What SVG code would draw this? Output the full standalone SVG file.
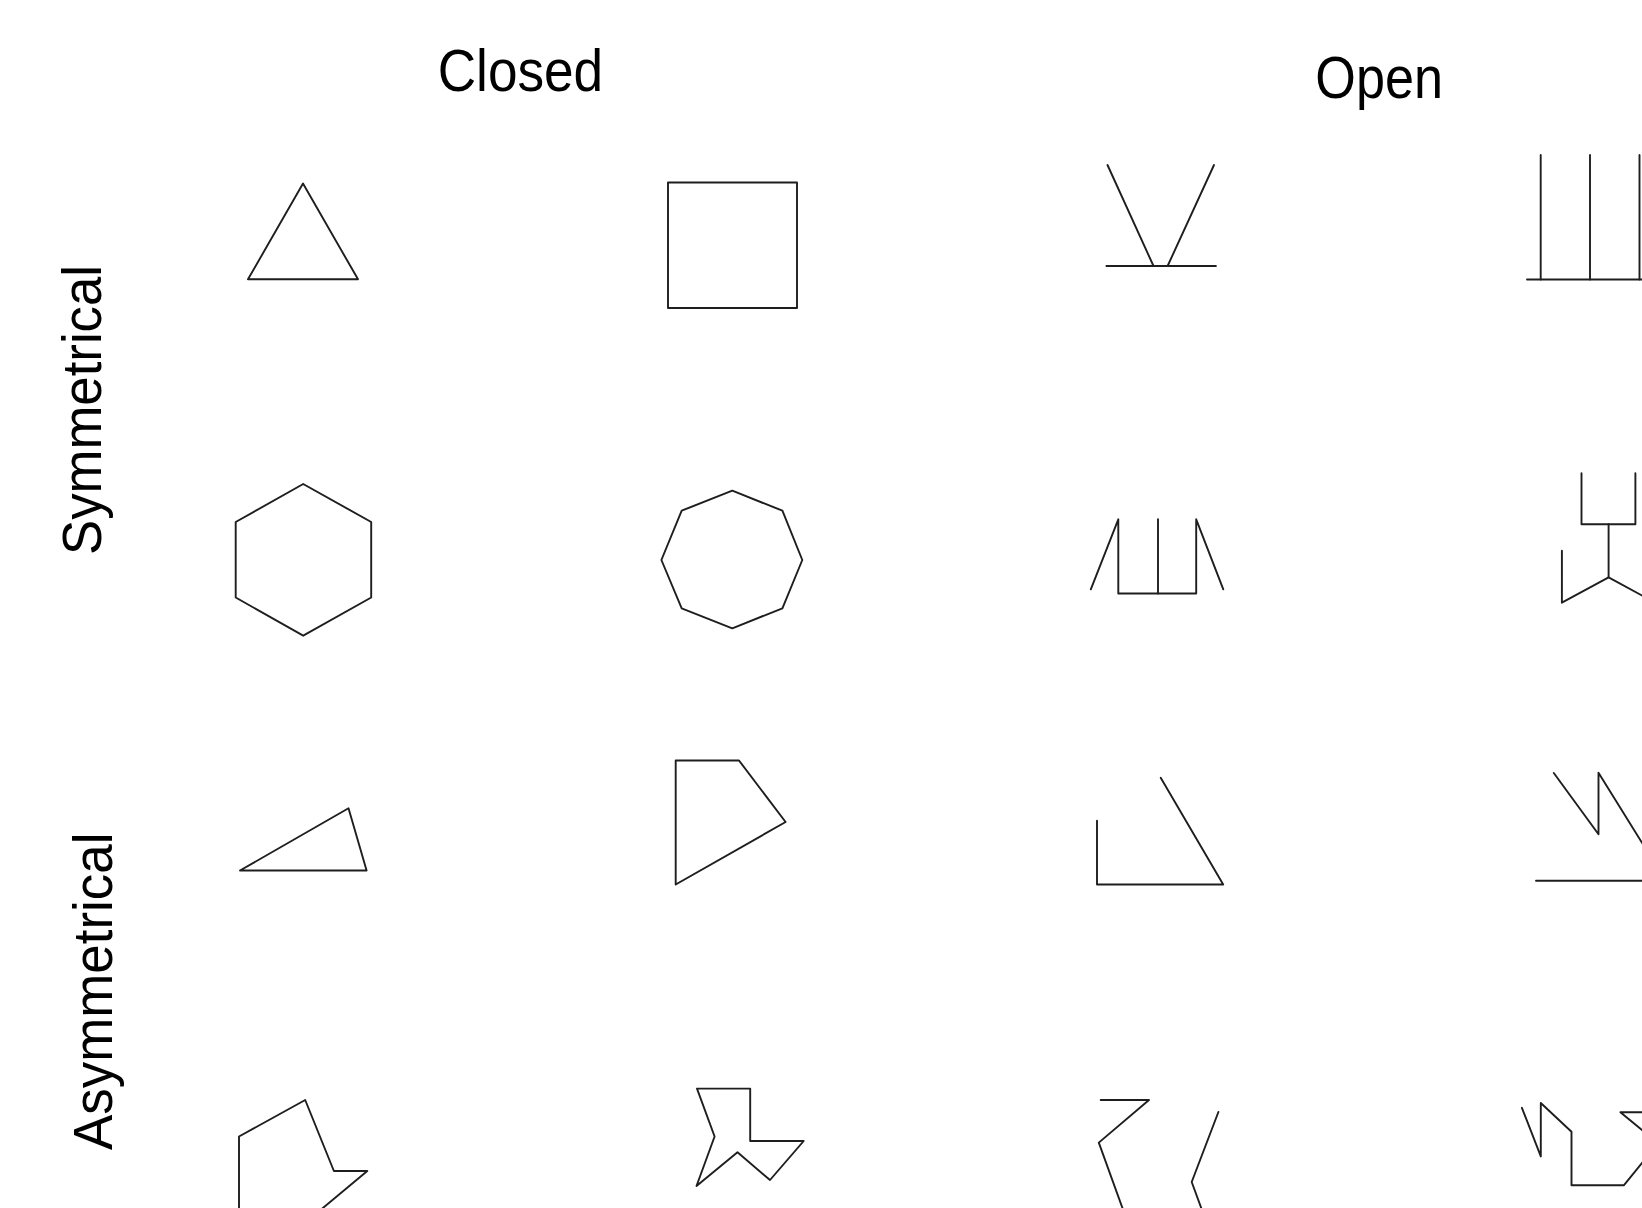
<svg xmlns="http://www.w3.org/2000/svg" width="1642" height="1208" viewBox="0 0 1642 1208">
<style>
.s{fill:none;stroke:#1e1e1e;stroke-width:1.9;stroke-linejoin:round;stroke-linecap:round}
.t{font-family:"Liberation Sans",Arial,sans-serif;fill:#000}
</style>
<rect width="1642" height="1208" fill="#fff"/>
<g id="labels">
<text class="t" x="437.7" y="91" font-size="59" textLength="165.5" lengthAdjust="spacingAndGlyphs">Closed</text>
<text class="t" x="1315.3" y="97.5" font-size="59" textLength="127.7" lengthAdjust="spacingAndGlyphs">Open</text>
<text class="t" transform="translate(101,555) rotate(-90)" font-size="55" textLength="290" lengthAdjust="spacingAndGlyphs">Symmetrical</text>
<text class="t" transform="translate(112,1150) rotate(-90)" font-size="55" textLength="317.5" lengthAdjust="spacingAndGlyphs">Asymmetrical</text>
</g>
<g id="closed-sym-1"><polygon class="s" points="303,183.5 248,279.3 358,279.3"/></g>
<g id="closed-sym-2"><rect class="s" x="668" y="182.5" width="129" height="125.5"/></g>
<g id="closed-sym-3"><polygon class="s" points="303.2,484 371.2,522 371.2,597.5 303.2,635.7 235.7,597.5 235.7,522"/></g>
<g id="closed-sym-4"><polygon class="s" points="732.3,490.7 782.4,510.7 802.3,560 782.4,608.3 732.3,628.3 681.7,608.3 661.4,560 681.7,510.7"/></g>
<g id="open-sym-1">
<line class="s" x1="1107.5" y1="165" x2="1153.5" y2="266"/>
<line class="s" x1="1214" y1="165" x2="1167.6" y2="266"/>
<line class="s" x1="1106.4" y1="266" x2="1215.9" y2="266"/>
</g>
<g id="open-sym-2">
<line class="s" x1="1540.7" y1="155" x2="1540.7" y2="279.5"/>
<line class="s" x1="1590" y1="155" x2="1590" y2="279.5"/>
<line class="s" x1="1639.5" y1="155" x2="1639.5" y2="279.5"/>
<line class="s" x1="1527" y1="279.5" x2="1665" y2="279.5"/>
</g>
<g id="open-sym-3">
<polyline class="s" points="1090.8,589.3 1118.3,519.3 1118.3,593.5 1196.2,593.5 1196.2,519.3 1223.3,589.3"/>
<line class="s" x1="1158" y1="519.3" x2="1158" y2="593.5"/>
</g>
<g id="open-sym-4">
<polyline class="s" points="1581.5,473.3 1581.5,524.3 1635.4,524.3 1635.4,473.3"/>
<line class="s" x1="1608.6" y1="524.3" x2="1608.6" y2="577.3"/>
<polyline class="s" points="1561.9,550.7 1561.9,602.7 1608.6,577.3 1655.3,602.7 1655.3,550.7"/>
</g>
<g id="closed-asym-1"><polygon class="s" points="240,870.5 348.5,808.3 366.6,870.5"/></g>
<g id="closed-asym-2"><polygon class="s" points="675.7,760.5 739,760.5 785.6,822 675.7,884.5"/></g>
<g id="closed-asym-3"><polyline class="s" points="239,1230 239,1136.5 305.2,1100 333.9,1171 367.3,1171 296.5,1230"/></g>
<g id="closed-asym-4"><polygon class="s" points="697,1088.6 750.2,1088.6 750.2,1141 803.7,1141 770,1180 737.5,1152.3 696.5,1186 714.6,1136.5"/></g>
<g id="open-asym-1"><polyline class="s" points="1097,820.8 1097,884.5 1223.2,884.5 1160.7,777.7"/></g>
<g id="open-asym-2">
<polyline class="s" points="1553.8,773 1598.5,834.3 1598.5,772.7 1662,875"/>
<line class="s" x1="1536" y1="880.7" x2="1665" y2="880.7"/>
</g>
<g id="open-asym-3">
<polyline class="s" points="1100.7,1100 1149,1100 1098.8,1142.6 1130.4,1230"/>
<polyline class="s" points="1218.4,1112 1191.7,1182 1209.3,1230"/>
</g>
<g id="open-asym-4">
<polyline class="s" points="1521.9,1107.8 1540.8,1156.4 1540.8,1103 1571.5,1131.8 1571.5,1185.2 1624,1185.2 1660,1141"/>
<polyline class="s" points="1665,1112.2 1620.4,1112.2 1660,1145"/>
</g>
<g id="connectors"/>
</svg>
